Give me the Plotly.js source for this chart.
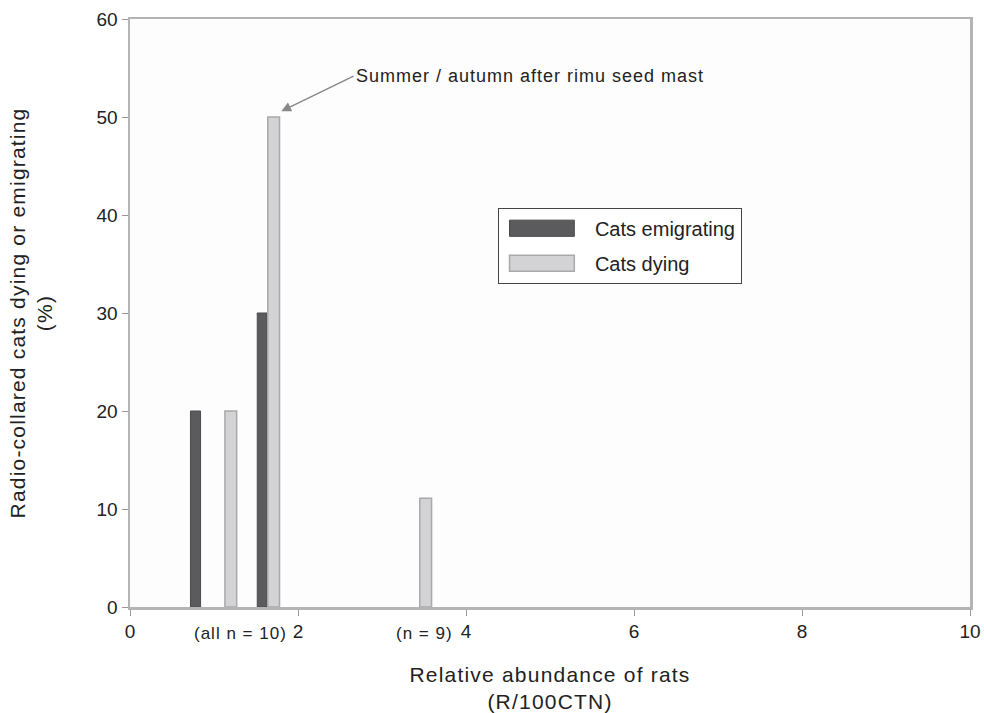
<!DOCTYPE html>
<html>
<head>
<meta charset="utf-8">
<script src="https://cdn.plot.ly/plotly-3.0.1.min.js"></script>
<style>
body{margin:0;background:#fff}
#chart{width:984px;height:713px}
.xtitle,.ytitle{letter-spacing:1.2px}
.annotation-text{letter-spacing:1px}
#chart .legendpoints path{transform:translate(43px,0) scale(5.4,1.35);vector-effect:non-scaling-stroke}
</style>
</head>
<body>
<div id="chart"></div>
<script>
// Data
const emigratingX = [0.78, 1.575];
const emigratingY = [20, 30];
const dyingX = [1.2, 1.71, 3.52];
const dyingY = [20, 50, 11.1];
const xTicks = [0, 2, 4, 6, 8, 10];
const yTicks = [0, 10, 20, 30, 40, 50, 60];
const seriesNames = ["Cats emigrating", "Cats dying"];
const sampleLabels = [{x: 1.32, text: "(all n = 10)"}, {x: 3.5, text: "(n = 9)"}];
const noteText = "Summer / autumn after rimu seed mast";

const font = "Liberation Sans, Arial, sans-serif";

const traces = [
  {type: "bar", name: seriesNames[0], legendgroup: "a", x: emigratingX, y: emigratingY, width: 0.12,
   marker: {color: "#5b5b5d", line: {color: "#4a4a4c", width: 1}}},
  {type: "bar", name: seriesNames[1], legendgroup: "b", x: dyingX, y: dyingY, width: 0.14,
   marker: {color: "#d3d3d5", line: {color: "#a9a9ab", width: 1.5}}}
];

const annotations = sampleLabels.map(s => ({
  x: s.x, y: 0, xref: "x", yref: "y", yshift: -26, showarrow: false,
  text: s.text, font: {family: font, size: 17, color: "#222"}
}));
annotations.push({
  x: 1.78, y: 50.5, xref: "x", yref: "y", ax: 74, ay: -36,
  showarrow: true, arrowhead: 2, arrowsize: 1.3, arrowwidth: 1.5, arrowcolor: "#888",
  text: noteText, xanchor: "left", standoff: 2,
  font: {family: font, size: 18, color: "#222"}
});

const layout = {
  width: 984, height: 713,
  paper_bgcolor: "#ffffff", plot_bgcolor: "#fdfdfd",
  margin: {l: 130, r: 14, t: 19, b: 106},
  barmode: "overlay",
  font: {family: font, size: 18, color: "#222"},
  xaxis: {
    range: [0, 10], tickvals: xTicks, ticktext: xTicks.map(String),
    showgrid: false, zeroline: false, showline: true, mirror: true,
    linecolor: "#b4b4b6", linewidth: 2.5, ticks: "outside", ticklen: 6, tickcolor: "#999",
    tickfont: {family: font, size: 19, color: "#222"},
    title: {text: "Relative abundance of rats<br>(R/100CTN)", standoff: 27,
            font: {family: font, size: 21, color: "#222"}}
  },
  yaxis: {
    range: [0, 60], tickvals: yTicks,
    showgrid: false, zeroline: false, showline: true, mirror: true,
    linecolor: "#b4b4b6", linewidth: 2.5, ticks: "outside", ticklen: 6, tickcolor: "#999",
    tickfont: {family: font, size: 19, color: "#222"},
    title: {text: "Radio-collared cats dying or emigrating<br>(%)", standoff: 38,
            font: {family: font, size: 21, color: "#222"}}
  },
  legend: {
    x: 0.438, y: 0.679, xanchor: "left", yanchor: "top",
    bgcolor: "#ffffff", bordercolor: "#444", borderwidth: 1,
    font: {family: font, size: 20, color: "#222"},
    itemwidth: 86, tracegroupgap: 6
  },
  annotations: annotations,
  showlegend: true
};

Plotly.newPlot("chart", traces, layout, {displayModeBar: false, staticPlot: true});
</script>
</body>
</html>
